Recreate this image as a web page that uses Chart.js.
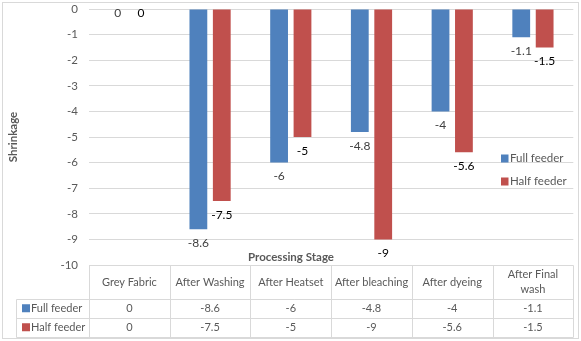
<!DOCTYPE html>
<html>
<head>
<meta charset="utf-8">
<script src="https://cdn.jsdelivr.net/npm/chart.js@4/dist/chart.umd.min.js"></script>
<style>
html,body{margin:0;padding:0;background:#fff;}
canvas{display:block;}
</style>
</head>
<body>
<canvas id="c" width="581" height="341"></canvas>
<script>
const categories = ['Grey Fabric', 'After Washing', 'After Heatset', 'After bleaching', 'After dyeing', 'After Final wash'];
const fullFeeder = [0, -8.6, -6, -4.8, -4, -1.1];
const halfFeeder = [0, -7.5, -5, -9, -5.6, -1.5];
const seriesNames = ['Full feeder', 'Half feeder'];
const yMin = -10, yMax = 0, yStep = 1;
const xTitle = 'Processing Stage';
const yTitle = 'Shrinkage';

const BLUE = '#4F81BD', RED = '#C0504D';
const GRID = '#d9d9d9', TXT = '#595959';
const FONT = 'Lato, "Open Sans", sans-serif';

function wrapText(ctx, text, maxW) {
  const words = text.split(' ');
  const lines = [];
  let cur = '';
  for (const w of words) {
    const t = cur ? cur + ' ' + w : w;
    if (ctx.measureText(t).width > maxW && cur) { lines.push(cur); cur = w; }
    else cur = t;
  }
  if (cur) lines.push(cur);
  return lines;
}

const decor = {
  id: 'decor',
  beforeDraw(chart) {
    const ctx = chart.ctx;
    ctx.save();
    ctx.fillStyle = '#fff';
    ctx.fillRect(0, 0, chart.width, chart.height);
    ctx.strokeStyle = GRID;
    ctx.lineWidth = 1;
    ctx.strokeRect(2.5, 2.5, 576, 336);
    ctx.restore();
  },
  afterDatasetsDraw(chart) {
    const ctx = chart.ctx;
    ctx.save();
    ctx.font = '12px ' + FONT;
    ctx.textAlign = 'center';
    ctx.textBaseline = 'middle';
    chart.data.datasets.forEach((ds, di) => {
      const meta = chart.getDatasetMeta(di);
      ctx.fillStyle = di === 0 ? '#404040' : '#000';
      meta.data.forEach((el, i) => {
        const v = ds.data[i];
        const off = v === 0 ? 4 : 14;
        ctx.fillText(String(v), el.x, el.y + off);
      });
    });
    ctx.restore();
  },
  afterDraw(chart) {
    const ctx = chart.ctx;
    const ca = chart.chartArea;
    const n = categories.length;
    const colW = (ca.right - ca.left) / n;
    const top = Math.round(ca.bottom) + 0.5;
    const r1 = top + 33, r2 = r1 + 19.5, bot = r2 + 18.5;
    const tl = 16.5;
    ctx.save();
    ctx.fillStyle = TXT;
    ctx.font = 'bold 11.5px ' + FONT;
    ctx.textAlign = 'center';
    ctx.textBaseline = 'middle';
    ctx.fillText(xTitle, 291, 257);
    ctx.save();
    ctx.translate(13, (ca.top + ca.bottom) / 2);
    ctx.rotate(-Math.PI / 2);
    ctx.fillText(yTitle, 0, 0);
    ctx.restore();
    ctx.font = '11.5px ' + FONT;
    ctx.textAlign = 'left';
    const legY = [158.5, 181.5];
    chart.data.datasets.forEach((ds, di) => {
      ctx.fillStyle = ds.backgroundColor;
      ctx.fillRect(501, legY[di] - 4, 7.5, 8);
      ctx.fillStyle = TXT;
      ctx.fillText(ds.label, 510, legY[di]);
    });
    ctx.strokeStyle = GRID;
    ctx.lineWidth = 1;
    ctx.beginPath();
    ctx.moveTo(ca.left, top); ctx.lineTo(ca.right, top);
    [r1, r2, bot].forEach(y => { ctx.moveTo(tl, Math.round(y) + 0.5); ctx.lineTo(ca.right, Math.round(y) + 0.5); });
    for (let i = 0; i <= n; i++) {
      const x = Math.round(ca.left + i * colW) + 0.5;
      ctx.moveTo(x, top); ctx.lineTo(x, Math.round(bot) + 0.5);
    }
    ctx.moveTo(tl, Math.round(r1) + 0.5); ctx.lineTo(tl, Math.round(bot) + 0.5);
    ctx.stroke();
    ctx.fillStyle = TXT;
    ctx.font = '11px ' + FONT;
    ctx.textAlign = 'center';
    const hc = (top + r1) / 2;
    categories.forEach((c, i) => {
      const cx = ca.left + (i + 0.5) * colW;
      const lines = wrapText(ctx, c, colW - 6);
      const lh = 15.5;
      lines.forEach((l, k) => ctx.fillText(l, cx, hc + (k - (lines.length - 1) / 2) * lh));
    });
    const rowsY = [(r1 + r2) / 2, (r2 + bot) / 2];
    chart.data.datasets.forEach((ds, di) => {
      const y = rowsY[di];
      ctx.fillStyle = ds.backgroundColor;
      ctx.fillRect(22, y - 4, 8, 8);
      ctx.fillStyle = TXT;
      ctx.textAlign = 'left';
      ctx.fillText(ds.label, 31, y);
      ctx.textAlign = 'center';
      ds.data.forEach((v, i) => {
        ctx.fillText(String(v), ca.left + (i + 0.5) * colW, y);
      });
    });
    ctx.restore();
  }
};

new Chart(document.getElementById('c'), {
  type: 'bar',
  data: {
    labels: categories,
    datasets: [
      { label: seriesNames[0], data: fullFeeder, backgroundColor: BLUE, borderWidth: 0, barPercentage: 0.76, categoryPercentage: 0.58 },
      { label: seriesNames[1], data: halfFeeder, backgroundColor: RED, borderWidth: 0, barPercentage: 0.76, categoryPercentage: 0.58 }
    ]
  },
  options: {
    responsive: false,
    animation: false,
    devicePixelRatio: 1,
    layout: { padding: { top: 9, right: 7.7, bottom: 76, left: 0 } },
    plugins: { legend: { display: false }, tooltip: { enabled: false } },
    scales: {
      x: { display: false, offset: true },
      y: {
        min: yMin, max: yMax,
        border: { display: false },
        grid: { color: GRID, drawTicks: false, lineWidth: 1 },
        ticks: { stepSize: yStep, padding: 11, color: TXT, font: { family: FONT, size: 11.5 } },
        afterFit(scale) { scale.width = 89; scale.paddingTop = 0; scale.paddingBottom = 0; }
      }
    }
  },
  plugins: [decor]
});
</script>
</body>
</html>
